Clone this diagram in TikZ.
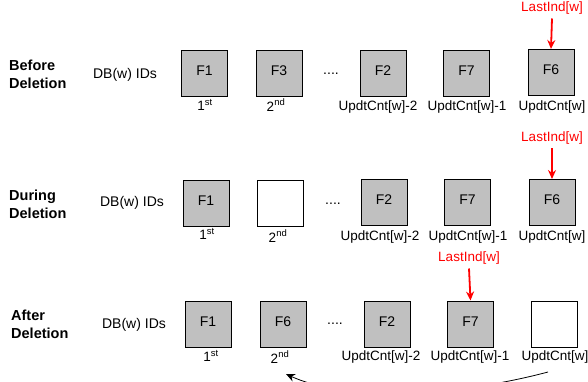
\documentclass[tikz,border=0pt]{standalone}
\usepackage{fontspec}
\setmainfont{Liberation Sans}
\usetikzlibrary{arrows.meta}
\definecolor{boxgray}{HTML}{C0C0C0}
\definecolor{lired}{HTML}{FF0000}
\begin{document}
\begin{tikzpicture}[x=1pt,y=-1pt,
  fbox/.style={draw=black,line width=1pt,fill=boxgray,minimum width=46pt,minimum height=46pt,inner sep=0pt,font=\fontsize{14}{16}\selectfont,text depth=5pt},
  ebox/.style={fbox,fill=white},
  idx/.style={font=\fontsize{13.5}{16}\selectfont,inner sep=1pt},
  phase/.style={font=\fontsize{14.5}{18}\selectfont\bfseries,align=left,anchor=west,inner sep=0pt},
  dbl/.style={font=\fontsize{14}{16}\selectfont,inner sep=0pt},
  dots/.style={font=\fontsize{14}{16}\selectfont,inner sep=0pt},
  redlbl/.style={text=lired,font=\fontsize{13.5}{16}\selectfont,inner sep=1pt},
  redarrow/.style={draw=lired,line width=1.8pt,-{Stealth[length=9pt,width=8pt]}},
  backarrow/.style={draw=black,line width=0.8pt,-{Stealth[length=9pt,width=8pt]}}
]
\useasboundingbox (0,0) rectangle (588,381);
\clip (0,0) rectangle (588,381);

% Row 1: Before Deletion
\node[phase] (p1) at (9,74) {Before\\Deletion};
\node[dbl] (d1) at (125,75) {DB(w) IDs};
\node[fbox] (a1) at (204.5,73.5) {F1};
\node[fbox] (a2) at (279,73.5) {F3};
\node[dots] (a3) at (331,74) {....};
\node[fbox] (a4) at (383,73.5) {F2};
\node[fbox] (a5) at (466.5,73.5) {F7};
\node[fbox] (a6) at (551,72.5) {F6};
\node[idx] (la1) at (205,105) {1\textsuperscript{st}};
\node[idx] (la2) at (276,105) {2\textsuperscript{nd}};
\node[idx] (la4) at (378,107) {UpdtCnt[w]-2};
\node[idx] (la5) at (467,107) {UpdtCnt[w]-1};
\node[idx] (la6) at (552,107) {UpdtCnt[w]};
\node[redlbl] (r1) at (552,8) {LastInd[w]};
\draw[redarrow] (r1.south) ++(0,3) -- (a6.north);

% Row 2: During Deletion
\node[phase] (p2) at (9,204) {During\\Deletion};
\node[dbl] (d2) at (132,203) {DB(w) IDs};
\node[fbox] (b1) at (206,203) {F1};
\node[ebox] (b2) at (280,203) {};
\node[dots] (b3) at (333,204) {....};
\node[fbox] (b4) at (384,202.5) {F2};
\node[fbox] (b5) at (467.5,202.5) {F7};
\node[fbox] (b6) at (552,202.5) {F6};
\node[idx] (lb1) at (207,234) {1\textsuperscript{st}};
\node[idx] (lb2) at (278,236) {2\textsuperscript{nd}};
\node[idx] (lb4) at (380,237) {UpdtCnt[w]-2};
\node[idx] (lb5) at (468,237) {UpdtCnt[w]-1};
\node[idx] (lb6) at (552,237) {UpdtCnt[w]};
\node[redlbl] (r2) at (552,138) {LastInd[w]};
\draw[redarrow] (r2.south) ++(0,3) -- (b6.north);

% Row 3: After Deletion
\node[phase] (p3) at (11,324) {After\\Deletion};
\node[dbl] (d3) at (134,325) {DB(w) IDs};
\node[fbox] (c1) at (208,324) {F1};
\node[fbox] (c2) at (283,324) {F6};
\node[dots] (c3) at (335,324) {....};
\node[fbox] (c4) at (387,324) {F2};
\node[fbox] (c5) at (470.5,324) {F7};
\node[ebox] (c6) at (554.5,324) {};
\node[idx] (lc1) at (211,356) {1\textsuperscript{st}};
\node[idx] (lc2) at (280,357) {2\textsuperscript{nd}};
\node[idx] (lc4) at (381,357) {UpdtCnt[w]-2};
\node[idx] (lc5) at (470,357) {UpdtCnt[w]-1};
\node[idx] (lc6) at (555,357) {UpdtCnt[w]};
\node[redlbl] (r3) at (469,258) {LastInd[w]};
\draw[redarrow] (r3.south) ++(0,3) -- (c5.north);

% partial return arrow at the bottom
\coordinate (s) at (548,372);
\coordinate (t) at (286,374);
\draw[backarrow] (s) .. controls (458,396) and (347,402) .. (t);
\end{tikzpicture}
\end{document}
